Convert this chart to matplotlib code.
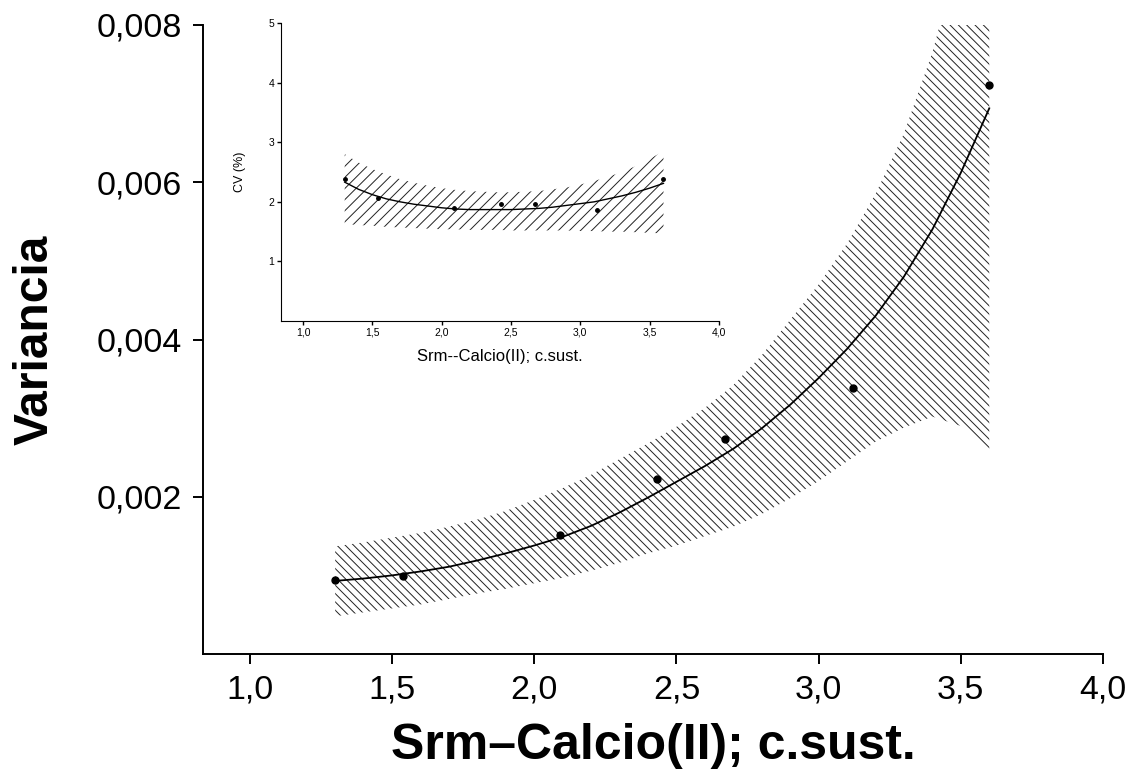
import matplotlib
matplotlib.use("Agg")
import matplotlib.pyplot as plt
from matplotlib.ticker import FuncFormatter

plt.rcParams['font.family'] = ['Liberation Sans', 'DejaVu Sans']
plt.rcParams['hatch.linewidth'] = 0.7

# measured points (main chart)
conc = [1.30, 1.54, 2.09, 2.43, 2.67, 3.12, 3.60]
variancia = [0.00094, 0.00099, 0.00151, 0.00222, 0.00273, 0.00338, 0.00724]

# fitted curve and confidence band
fit_x = [1.3, 1.4, 1.5, 1.6, 1.7, 1.8, 1.9, 2.0, 2.1, 2.2, 2.3, 2.4,
         2.5, 2.6, 2.7, 2.8, 2.9, 3.0, 3.1, 3.2, 3.3, 3.4, 3.5, 3.6]
fit_var = [0.00093, 0.00096, 0.00100, 0.00105, 0.00111, 0.00119, 0.00128, 0.00138,
           0.00149, 0.00163, 0.00180, 0.00199, 0.00219, 0.00239, 0.00261, 0.00287,
           0.00317, 0.00351, 0.00388, 0.00430, 0.00480, 0.00540, 0.00612, 0.00694]
var_hi = [0.00137, 0.00142, 0.00148, 0.00154, 0.00162, 0.00171, 0.00182, 0.00196,
          0.00211, 0.00228, 0.00248, 0.00268, 0.00289, 0.00313, 0.00342, 0.00380,
          0.00425, 0.00470, 0.00522, 0.00585, 0.00662, 0.00765, 0.00900, 0.01050]
var_lo = [0.00048, 0.00053, 0.00058, 0.00063, 0.00070, 0.00077, 0.00083, 0.00090,
          0.00097, 0.00106, 0.00116, 0.00128, 0.00138, 0.00150, 0.00162, 0.00178,
          0.00198, 0.00220, 0.00245, 0.00270, 0.00288, 0.00302, 0.00290, 0.00258]

# inset: coefficient of variation
cv = [2.38, 2.07, 1.90, 1.97, 1.97, 1.87, 2.39]
fit_cv = [2.33, 2.21, 2.12, 2.05, 2.00, 1.96, 1.93, 1.90, 1.88, 1.87, 1.87, 1.87,
          1.87, 1.88, 1.89, 1.91, 1.94, 1.97, 2.00, 2.05, 2.10, 2.16, 2.23, 2.31]
cv_hi = [2.80, 2.66, 2.55, 2.46, 2.38, 2.32, 2.27, 2.23, 2.20, 2.18, 2.17, 2.16,
         2.16, 2.17, 2.18, 2.21, 2.24, 2.29, 2.35, 2.42, 2.50, 2.60, 2.72, 2.85]
cv_lo = [1.63, 1.61, 1.60, 1.58, 1.57, 1.56, 1.55, 1.54, 1.54, 1.53, 1.53, 1.53,
         1.52, 1.52, 1.52, 1.52, 1.52, 1.51, 1.51, 1.50, 1.50, 1.49, 1.48, 1.47]

x_ticks = [1.0, 1.5, 2.0, 2.5, 3.0, 3.5, 4.0]
var_ticks = [0.002, 0.004, 0.006, 0.008]
cv_ticks = [1, 2, 3, 4, 5]


def comma(fmt):
    return FuncFormatter(lambda v, p: format(v, fmt).replace('.', ','))


fig = plt.figure(figsize=(11.37, 7.76), dpi=100)

ax = fig.add_axes([0.1785, 0.1572, 0.7916, 0.8106])
ax.fill_between(fit_x, var_lo, var_hi, facecolor='none', edgecolor='#222222',
                hatch='\\\\\\\\', linewidth=0)
ax.plot(fit_x, fit_var, color='black', lw=1.3)
ax.plot(conc, variancia, 'o', color='black', ms=5)
ax.set_xlim(0.835, 4.0)
ax.set_ylim(0, 0.008)
ax.set_xticks(x_ticks)
ax.set_yticks(var_ticks)
ax.xaxis.set_major_formatter(comma('.1f'))
ax.yaxis.set_major_formatter(comma('.3f'))
for s in ['top', 'right']:
    ax.spines[s].set_visible(False)
for s in ['left', 'bottom']:
    ax.spines[s].set_linewidth(1.4)
ax.tick_params(direction='out', length=7, width=1.4, labelsize=24.5, pad=8)
ax.set_xlabel('Srm\u2013Calcio(II); c.sust.', fontsize=36, fontweight='bold', labelpad=12)
ax.set_ylabel('Variancia', fontsize=34.5, fontweight='bold', labelpad=28)

ins = fig.add_axes([0.2471, 0.5863, 0.3852, 0.3840])
ins.patch.set_alpha(0)
ins.fill_between(fit_x, cv_lo, cv_hi, facecolor='none', edgecolor='#222222',
                 hatch='///', linewidth=0)
ins.plot(fit_x, fit_cv, color='black', lw=1.0)
ins.plot(conc, cv, 'o', color='black', ms=2.5)
ins.set_xlim(0.84, 4.0)
ins.set_ylim(0, 5)
ins.set_xticks(x_ticks)
ins.set_yticks(cv_ticks)
ins.xaxis.set_major_formatter(comma('.1f'))
for s in ['top', 'right']:
    ins.spines[s].set_visible(False)
ins.tick_params(direction='out', length=3, width=1, labelsize=7.5, pad=2)
ins.set_xlabel('Srm--Calcio(II); c.sust.', fontsize=12, labelpad=8)
ins.set_ylabel('CV (%)', fontsize=9, labelpad=16)

fig.savefig('out.png', dpi=100)
